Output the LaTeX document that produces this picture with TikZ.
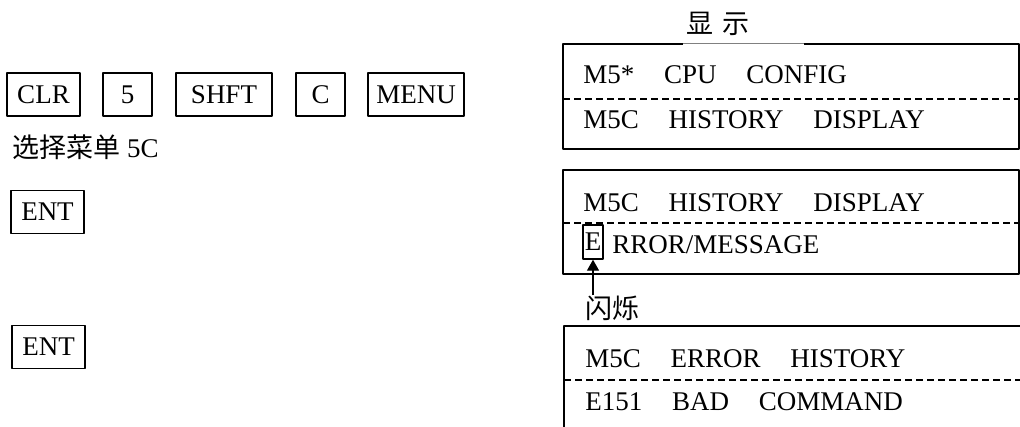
\documentclass[tikz,border=0pt]{standalone}
\usepackage{fontspec}
\setmainfont{Liberation Serif}
\newfontfamily\cjk{Noto Sans CJK SC}
\usetikzlibrary{arrows.meta}
\newcommand{\gapw}{\hspace{1.1em}}
\tikzset{
	keybox/.style={draw, line width=0.7pt, minimum height=21.5pt, inner sep=0pt},
	frame/.style={line width=0.7pt},
	sepline/.style={line width=0.7pt, dash pattern=on 3.5pt off 2pt},
	txt/.style={anchor=base west, inner sep=0pt}
}
\begin{document}
\begin{tikzpicture}[x=0.5pt, y=-0.5pt, line join=round,
	every node/.style={font=\fontsize{13.5pt}{16pt}\selectfont}]
	\useasboundingbox (0,0) rectangle (1020,427);
	
	% Phím bấm
	\foreach \name/\t/\x/\w in {
		clr/CLR/43.5/36.5, five/5/127.5/24.5, shft/SHFT/224/48,
		c/C/320.5/24.5, menu/MENU/416/48
	}{
		\node[keybox, minimum width=\w pt] (\name) at (\x,94.5) {\t};
	}
	\node[txt] (choose) at (12,158) {{\cjk 选择菜单} 5C};
	\node[keybox, minimum width=36.5pt] (ent1) at (47.5,212) {ENT};
	\node[keybox, minimum width=36.5pt] (ent2) at (48.5,347) {ENT};
	
	% Màn hình 1
	\node (title) at (718,24) {\cjk 显\hspace{0.3em}示};
	\draw[frame] (683,44) -- (563,44) -- (563,149) -- (1019,149) -- (1019,44) -- (804,44);
	\draw[line width=0.3pt, gray] (683,43.5) -- (804,43.5);
	\draw[sepline] (563,99) -- (1019,99);
	\node[txt] (s1a) at (583,84) {M5*\gapw CPU\gapw CONFIG};
	\node[txt] (s1b) at (583,129) {M5C\gapw HISTORY\gapw DISPLAY};
	
	% Màn hình 2
	\draw[frame] (563,170) rectangle (1019,274);
	\draw[sepline] (563,223) -- (1019,223);
	\node[txt] (s2a) at (583,212) {M5C\gapw HISTORY\gapw DISPLAY};
	\node[draw, line width=0.7pt, inner sep=0pt, minimum width=10pt, minimum height=17pt] (ebox) at (593,242) {E};
	\node[txt] (s2b) at (612,253) {RROR/MESSAGE};
	\node[anchor=west, inner sep=0pt] (blink) at (585,308) {\cjk 闪烁};
	\draw[line width=0.7pt, -{Triangle[length=5.5pt, width=6pt]}] (blink.north -| ebox.south) -- (ebox.south);
	
	% Màn hình 3
	\draw[frame] (1020,326) -- (564,326) -- (564,427);
	\draw[sepline] (564,380) -- (1020,380);
	\node[txt] (s3a) at (585,367) {M5C\gapw ERROR\gapw HISTORY};
	\node[txt] (s3b) at (585,410) {E151\gapw BAD\gapw COMMAND};
\end{tikzpicture}
\end{document}
